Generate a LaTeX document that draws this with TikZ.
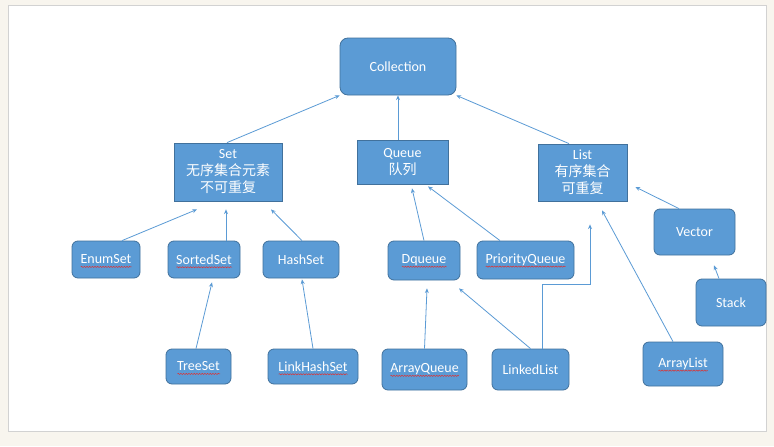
\documentclass[tikz,border=0pt]{standalone}
\usepackage{fontspec}
\setmainfont{Carlito}
\newfontfamily\cjk{Noto Sans CJK SC}
\usetikzlibrary{calc,arrows.meta,decorations.pathmorphing}
\definecolor{boxfill}{HTML}{5B9BD5}
\definecolor{boxline}{HTML}{41719C}
\definecolor{arrowc}{HTML}{5B9BD5}
\definecolor{pagebg}{HTML}{F8F5EE}
\definecolor{wavered}{HTML}{E03030}
\newsavebox\wvbox
\newcommand\rw[1]{\sbox\wvbox{#1}\rlap{\smash{\tikz[baseline=0pt]\draw[wavered,line width=0.35pt,sharp corners,decorate,decoration={snake,amplitude=0.45pt,segment length=2pt}] (0pt,-2.2pt) -- (\the\wd\wvbox,-2.2pt);}}\usebox\wvbox}
\begin{document}
\begin{tikzpicture}[x=0.75pt,y=-0.75pt,
 box/.style={draw=boxline, line width=0.6pt, fill=boxfill, text=white,
   font=\fontsize{10.5}{12.75}\selectfont, inner sep=0pt, align=center},
 rbox/.style={box, rounded corners=4.5pt},
 conn/.style={draw=arrowc, line width=0.6pt, -{Stealth[length=3.5pt,width=3pt]}}]
\fill[pagebg] (0,0) rectangle (774,446);
\draw[fill=white, draw=gray!35] (8,5) rectangle (766,431);
\useasboundingbox (0,0) rectangle (774,446);
% level 0
\node[rbox, rounded corners=6pt, minimum width=87pt, minimum height=42.75pt] (coll) at (398,66.5) {Collection};
% level 1
\node[box, minimum width=81pt, minimum height=43.5pt] (set) at (228,172) {Set\\{\cjk 无序集合元素}\\{\cjk 不可重复}};
\node[box, minimum width=68.25pt, minimum height=33pt] (queue) at (402.5,162) {Queue\\{\cjk 队列}};
\node[box, minimum width=66.75pt, minimum height=42.75pt] (list) at (582.5,172.5) {List\\{\cjk 有序集合}\\{\cjk 可重复}};
% level 2
\node[rbox, minimum width=51pt, minimum height=27.75pt] (enum) at (106,259.5) {\rw{EnumSet}};
\node[rbox, minimum width=54pt, minimum height=27.75pt] (sorted) at (204,259.5) {\rw{SortedSet}};
\node[rbox, minimum width=57pt, minimum height=27.75pt] (hash) at (301,259.5) {HashSet};
\node[rbox, minimum width=54pt, minimum height=29.25pt] (dq) at (424,260.5) {\rw{Dqueue}};
\node[rbox, minimum width=72.75pt, minimum height=28.5pt] (pq) at (525.5,260) {\rw{PriorityQueue}};
\node[rbox, minimum width=60.75pt, minimum height=34.5pt] (vec) at (694.5,232) {Vector};
\node[rbox, minimum width=52.5pt, minimum height=35.25pt] (stack) at (731,302.5) {Stack};
% level 3
\node[rbox, minimum width=48.75pt, minimum height=26.25pt] (ts) at (198.5,366.5) {\rw{TreeSet}};
\node[rbox, minimum width=67.5pt, minimum height=26.25pt] (lhs) at (313,366.5) {\rw{LinkHashSet}};
\node[rbox, minimum width=63.75pt, minimum height=30.75pt] (aq) at (424.5,369.5) {\rw{ArrayQueue}};
\node[rbox, minimum width=57.75pt, minimum height=30.75pt] (ll) at (530.5,369.5) {LinkedList};
\node[rbox, minimum width=60pt, minimum height=33pt] (al) at (683,364) {\rw{ArrayList}};
% connectors
\draw[conn] ($(set.north)+(-1,0)$) -- (coll.south west);
\draw[conn] ($(queue.north)+(-4.5,0)$) -- (coll.south);
\draw[conn] ($(list.north)+(-13.5,0)$) -- (coll.south east);
\draw[conn] ($(enum.north)+(16,0)$) -- ($(set.south)+(-31,8)$);
\draw[conn] ($(sorted.north)+(22,0)$) -- ($(set.south)+(-2,8)$);
\draw[conn] ($(hash.north)+(1,0)$) -- ($(set.south)+(43,8)$);
\draw[conn] (dq.north) -- ($(queue.south)+(9.5,4)$);
\draw[conn] ($(pq.north)+(-25.5,0)$) -- ($(queue.south)+(25.5,2)$);
\draw[conn] ($(ll.north)+(11.5,0)$) -- ++(0,-64) -- ++(48,0) -- ($(list.south)+(7.5,23)$);
\draw[conn] (ll.north) -- ($(dq.south)+(35,8)$);
\draw[conn] (aq.north) -- ($(dq.south)+(3,8)$);
\draw[conn] ($(al.north)+(-10,0)$) -- ($(list.south)+(19.5,9)$);
\draw[conn] ($(vec.north)+(-15.5,0)$) -- ($(list.east)+(8,14.5)$);
\draw[conn] ($(stack.north)+(-12,0)$) -- ($(vec.south)+(19.5,10)$);
\draw[conn] ($(ts.north)+(-2.5,0)$) -- ($(sorted.south)+(8,4)$);
\draw[conn] (lhs.north) -- ($(hash.south)+(1,1)$);
\end{tikzpicture}
\end{document}
